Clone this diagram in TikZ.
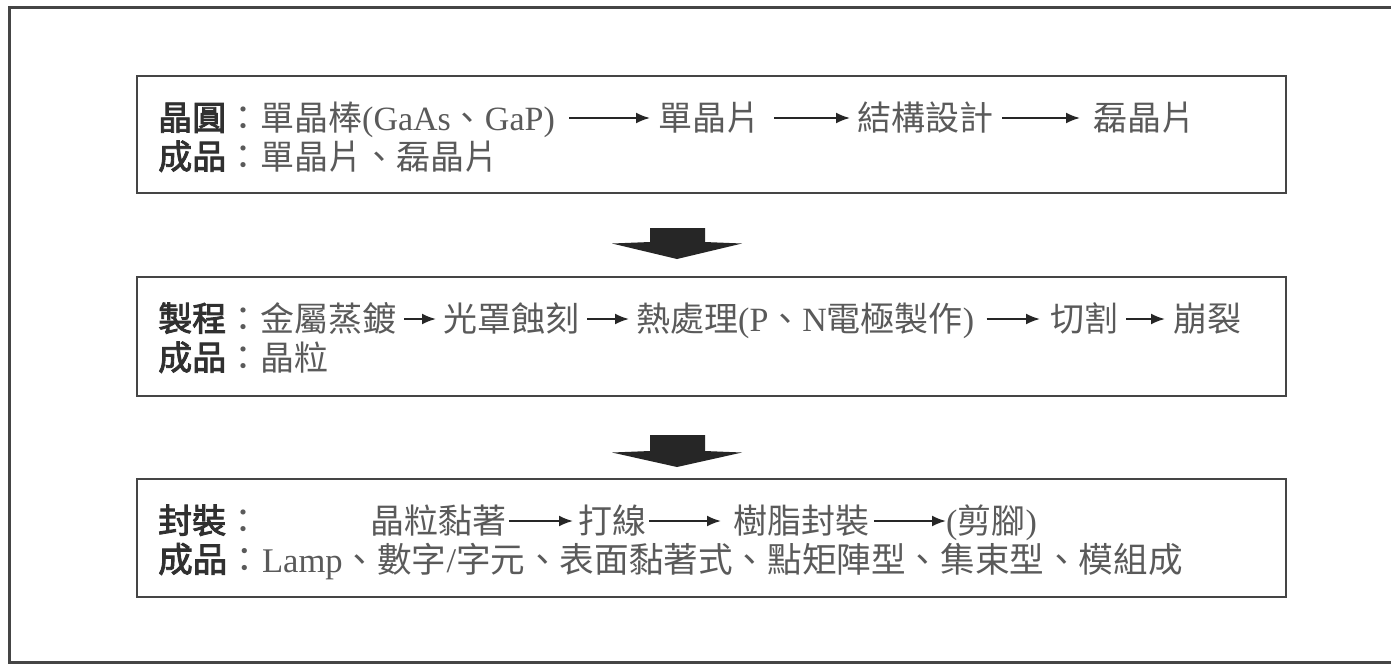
\documentclass[tikz,border=0pt]{standalone}
\usepackage{fontspec}
\setmainfont{Liberation Serif}
\newfontfamily\cjk{Noto Sans CJK TC}
\newfontfamily\cjkb[FakeBold=2.5]{Noto Sans CJK TC}
\usetikzlibrary{arrows.meta}
\definecolor{txtc}{HTML}{5A5A5A}
\definecolor{labc}{HTML}{303030}
\definecolor{boxc}{HTML}{454545}
\definecolor{arrc}{HTML}{262626}
\newcommand\lt[1]{{\rmfamily #1}}
\newcommand\lab[1]{{\cjkb\color{labc}#1}}
\begin{document}
\begin{tikzpicture}[x=1pt,y=-1pt,
  txt/.style={anchor=west, inner sep=0pt, text height=29pt, text depth=5pt,
    font=\fontsize{34}{40}\selectfont\cjk, text=txtc},
  boxn/.style={draw=boxc, line width=2.6pt, minimum width=1149pt, inner sep=0pt},
  arr/.style={draw=arrc, line width=2pt, -{Latex[length=14pt,width=11pt]}},
  fat/.style={fill=arrc, draw=none},
]
\useasboundingbox (0,0) rectangle (1391,665);
\fill[white] (0,0) rectangle (1391,665);
% outer frame (open on the right)
\draw[line width=3pt, draw=boxc] (1400,7) -- (9,7) -- (9,662) -- (1400,662);

% boxes
\node[boxn, minimum height=117pt] (b1) at (711.5,134.5) {};
\node[boxn, minimum height=119pt] (b2) at (711.5,336.5) {};
\node[boxn, minimum height=118pt] (b3) at (711.5,538) {};

% fat arrows
\fill[fat] (650,228) -- (705,228) -- (705,242) -- (742,243.5) -- (677,259) -- (612,243.5) -- (650,242) -- cycle;
\fill[fat] (650,435) -- (705,435) -- (705,451) -- (742,452.5) -- (677,467) -- (612,452.5) -- (650,451) -- cycle;

% box 1
\node[txt] (a1) at (158,118) {\lab{晶圓}：單晶棒\lt{(GaAs}、\lt{GaP)}};
\node[txt] (a2) at (658,118) {單晶片};
\node[txt] (a3) at (857,118) {結構設計};
\node[txt] (a4) at (1093,118) {磊晶片};
\node[txt] (a5) at (158,157) {\lab{成品}：單晶片、磊晶片};
\draw[arr, shorten <=14pt, shorten >=8pt] (a1.east) -- (a2.west);
\draw[arr, shorten <=14pt, shorten >=7pt] (a2.east) -- (a3.west);
\draw[arr, shorten <=9pt, shorten >=13pt] (a3.east) -- (a4.west);

% box 2
\node[txt] (c1) at (158,319) {\lab{製程}：金屬蒸鍍};
\node[txt] (c2) at (443,319) {光罩蝕刻};
\node[txt] (c3) at (636,319) {熱處理\lt{(P}、\lt{N}電極製作\lt{)}};
\node[txt] (c4) at (1050,319) {切割};
\node[txt] (c5) at (1173,319) {崩裂};
\node[txt] (c6) at (158,358) {\lab{成品}：晶粒};
\draw[arr, shorten <=8pt, shorten >=7pt] (c1.east) -- (c2.west);
\draw[arr, shorten <=8pt, shorten >=7pt] (c2.east) -- (c3.west);
\draw[arr, shorten <=12pt, shorten >=10pt] (c3.east) -- (c4.west);
\draw[arr, shorten <=8pt, shorten >=8pt] (c4.east) -- (c5.west);

% box 3
\node[txt] (d0) at (158,521) {\lab{封裝}：};
\node[txt] (d1) at (370,521) {晶粒黏著};
\node[txt] (d2) at (578,521) {打線};
\node[txt] (d3) at (733,521) {樹脂封裝};
\node[txt] (d4) at (946,521) {\lt{(}剪腳\lt{)}};
\node[txt, font=\fontsize{34.6}{40}\selectfont\cjk] (d5) at (158,560) {\lab{成品}：\lt{Lamp}、數字\lt{/}字元、表面黏著式、點矩陣型、集束型、模組成};
\draw[arr, shorten <=3pt, shorten >=5pt] (d1.east) -- (d2.west);
\draw[arr, shorten <=3pt, shorten >=12pt] (d2.east) -- (d3.west);
\draw[arr, shorten <=5pt, shorten >=0pt] (d3.east) -- (d4.west);
\end{tikzpicture}
\end{document}
